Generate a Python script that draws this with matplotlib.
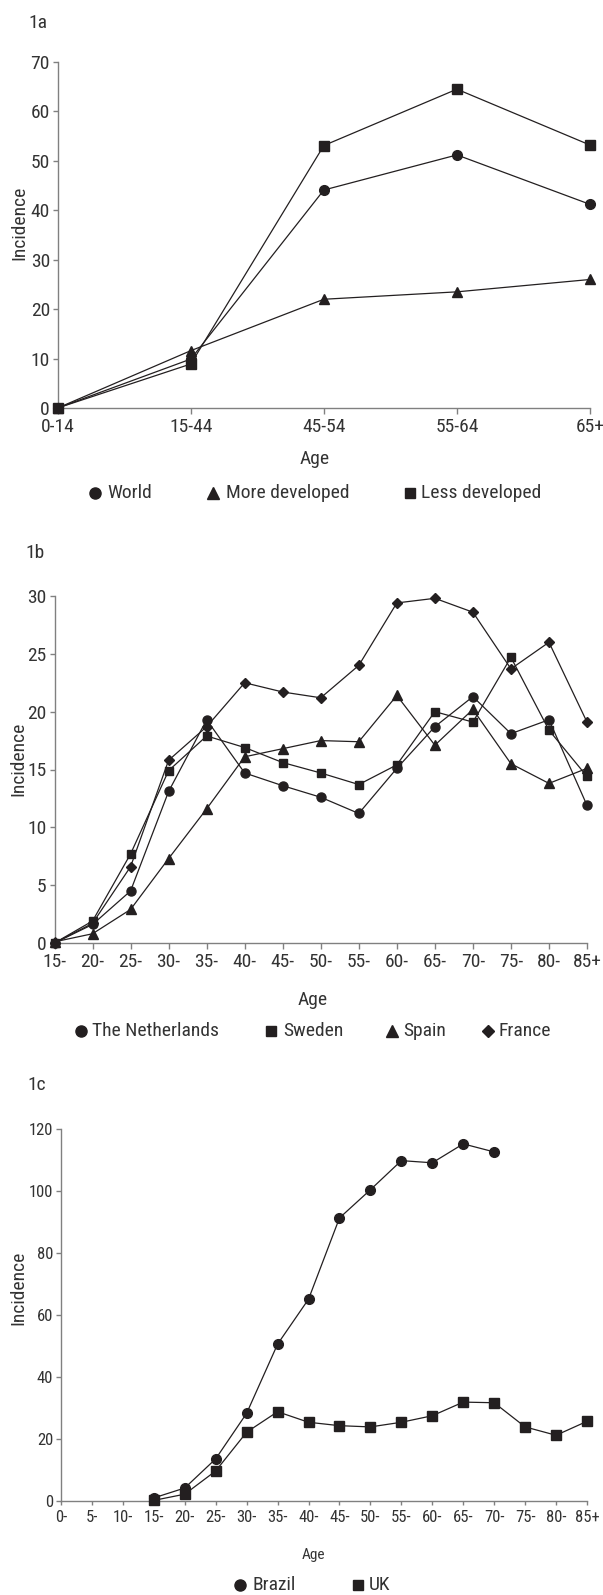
import numpy as np
import matplotlib
matplotlib.use("Agg")
import matplotlib.pyplot as plt
from matplotlib.lines import Line2D

plt.rcParams['font.family'] = ['Roboto Condensed', 'DejaVu Sans']

nan = np.nan

# ---------------- data ----------------
age_1a = ['0-14', '15-44', '45-54', '55-64', '65+']
world = [0, 9.9, 44.1, 51.2, 41.2]
more_developed = [0, 11.6, 22.0, 23.5, 26.0]
less_developed = [0, 8.9, 53.1, 64.5, 53.2]
names_1a = ['World', 'More developed', 'Less developed']

age_1b = ['15-', '20-', '25-', '30-', '35-', '40-', '45-', '50-', '55-', '60-',
          '65-', '70-', '75-', '80-', '85+']
netherlands = [0, 1.6, 4.5, 13.1, 19.3, 14.7, 13.6, 12.6, 11.2, 15.1, 18.7, 21.3, 18.1, 19.3, 11.9]
sweden = [0, 1.9, 7.7, 14.9, 17.9, 16.9, 15.6, 14.7, 13.7, 15.4, 20.0, 19.1, 24.7, 18.4, 14.4]
spain = [0.1, 0.8, 2.9, 7.3, 11.6, 16.1, 16.8, 17.5, 17.4, 21.4, 17.1, 20.2, 15.5, 13.8, 15.1]
france = [0, 1.7, 6.6, 15.8, 18.7, 22.5, 21.7, 21.2, 24.0, 29.4, 29.8, 28.6, 23.7, 26.0, 19.1]
names_1b = ['The Netherlands', 'Sweden', 'Spain', 'France']

age_1c = ['0-', '5-', '10-', '15-', '20-', '25-', '30-', '35-', '40-', '45-', '50-',
          '55-', '60-', '65-', '70-', '75-', '80-', '85+']
brazil = [nan, nan, nan, 1.0, 4.2, 13.6, 28.3, 50.6, 65.1, 91.3, 100.4, 109.8, 109.1,
          115.2, 112.6, nan, nan, nan]
uk = [nan, nan, nan, 0.2, 2.2, 9.7, 22.2, 28.8, 25.4, 24.3, 23.9, 25.4, 27.5, 31.9,
      31.7, 23.9, 21.2, 25.7]
names_1c = ['Brazil', 'UK']

# ---------------- style ----------------
W, H = 603, 1595
fig = plt.figure(figsize=(W / 100, H / 100), dpi=100)

MK = '#231f20'
AX = '#808080'
TX = '#333333'


def px_axes(left, right, top, bottom):
    return fig.add_axes([left / W, 1 - bottom / H, (right - left) / W, (bottom - top) / H])


def style(ax, fs, xtl):
    for s in ['top', 'right']:
        ax.spines[s].set_visible(False)
    for s in ['left', 'bottom']:
        ax.spines[s].set_color(AX)
        ax.spines[s].set_linewidth(1.0)
    ax.tick_params(axis='both', colors=AX, labelcolor=TX, labelsize=fs, width=1.0)
    ax.tick_params(axis='y', length=3.6, pad=2)
    ax.tick_params(axis='x', length=xtl, pad=3)
    ax.set_facecolor('none')


def line(ax, y, marker, ms):
    x = np.arange(len(y))
    ax.plot(x, y, color=MK, lw=0.9, marker=marker, ms=ms, mfc=MK, mec=MK,
            clip_on=False, zorder=3)


def legend(y, items, fs):
    for (mx, tx, marker, ms, name) in items:
        fig.add_artist(Line2D([mx / W], [1 - y / H], transform=fig.transFigure,
                              marker=marker, ms=ms, color=MK, ls='none'))
        fig.text(tx / W, 1 - y / H, name, ha='left', va='center', fontsize=fs, color=TX)


def ftext(x, y, s, fs, **kw):
    fig.text(x / W, 1 - y / H, s, fontsize=fs, color=TX, **kw)


# ---------------- 1a ----------------
ax1 = px_axes(57.7, 590, 62, 408)
line(ax1, world, 'o', 7)
line(ax1, more_developed, '^', 7)
line(ax1, less_developed, 's', 6.5)
ax1.set_xlim(0, len(age_1a) - 1)
ax1.set_ylim(0, 70)
ax1.set_yticks(np.arange(0, 71, 10))
ax1.set_xticks(range(len(age_1a)))
ax1.set_xticklabels(age_1a)
style(ax1, 14, 4.3)
ftext(28, 23, '1a', 14, ha='left', va='center')
ftext(19, 223, 'Incidence', 14, ha='center', va='center', rotation=90)
ftext(315, 459, 'Age', 14, ha='center', va='center')
legend(493, [(95, 107, 'o', 8, names_1a[0]),
             (213, 226, '^', 8, names_1a[1]),
             (410, 421, 's', 7, names_1a[2])], 14)

# ---------------- 1b ----------------
ax2 = px_axes(54.5, 587, 596, 943)
line(ax2, netherlands, 'o', 6.5)
line(ax2, sweden, 's', 6)
line(ax2, france, 'D', 4.8)
line(ax2, spain, '^', 6.5)
ax2.set_xlim(0, len(age_1b) - 1)
ax2.set_ylim(0, 30)
ax2.set_yticks(np.arange(0, 31, 5))
ax2.set_xticks(range(len(age_1b)))
ax2.set_xticklabels(age_1b)
style(ax2, 14, 4.3)
ftext(25, 553, '1b', 14, ha='left', va='center')
ftext(18.5, 759, 'Incidence', 14, ha='center', va='center', rotation=90)
ftext(313, 1000, 'Age', 14, ha='center', va='center')
legend(1031, [(81, 92, 'o', 8, names_1b[0]),
              (271, 283, 's', 7, names_1b[1]),
              (392, 403, '^', 8, names_1b[2]),
              (488, 498, 'D', 6, names_1b[3])], 14)

# ---------------- 1c ----------------
ax3 = px_axes(61, 587, 1129, 1501)
line(ax3, brazil, 'o', 7)
line(ax3, uk, 's', 6.5)
ax3.set_xlim(0, len(age_1c) - 1)
ax3.set_ylim(0, 120)
ax3.set_yticks(np.arange(0, 121, 20))
ax3.set_xticks(range(len(age_1c)))
ax3.set_xticklabels(age_1c)
style(ax3, 12, 3.2)
ftext(27, 1085, '1c', 14, ha='left', va='center')
ftext(18.5, 1288, 'Incidence', 14, ha='center', va='center', rotation=90)
ftext(313, 1555, 'Age', 11, ha='center', va='center')
legend(1585, [(240, 252, 'o', 8, names_1c[0]),
              (358, 369, 's', 7, names_1c[1])], 14)

fig.savefig('out.png', dpi=100, facecolor='white')
